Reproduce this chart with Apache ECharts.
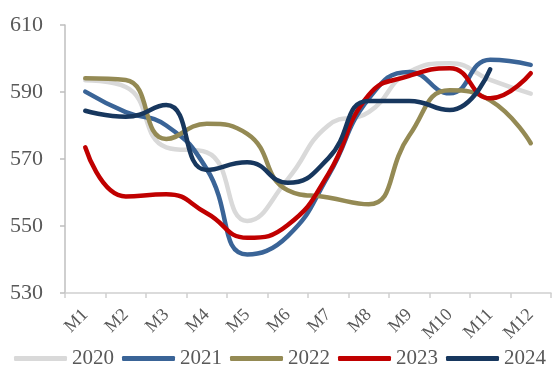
<!DOCTYPE html>
<html>
<head>
<meta charset="utf-8">
<script src="https://cdn.jsdelivr.net/npm/echarts@6/dist/echarts.min.js"></script>
<style>
  html, body { margin: 0; padding: 0; background: #fff; }
  #chart { width: 560px; height: 374px; }
</style>
</head>
<body>
<div id="chart"></div>
<script>
// Monthly values by year
const months = ['M1','M2','M3','M4','M5','M6','M7','M8','M9','M10','M11','M12'];
const y2020 = [593.5, 591.5, 573.5, 572, 551.5, 564, 580, 584, 596, 598.6, 593.6, 589.5];
const y2021 = [590.1, 584, 580, 567, 541.5, 547, 565, 588, 596, 589.6, 599.6, 598.1];
const y2022 = [594.1, 593.6, 576, 580.5, 577.5, 560.7, 558.5, 556.5, 577, 590.5, 587.5, 574.7];
const y2023 = [573.5, 558.8, 559.5, 553.8, 546.5, 550.3, 565.5, 589.1, 594.8, 597.1, 588.1, 595.6];
const y2024 = [584.4, 582.6, 586.1, 566.7, 569, 562.9, 570.2, 587.3, 587.3, 584.6, 596.8];

const yMin = 530, yMax = 610, yStep = 20;

const seriesDefs = [
  { name: '2020', data: y2020, color: '#D9D9D9' },
  { name: '2021', data: y2021, color: '#3A6497' },
  { name: '2022', data: y2022, color: '#948A54' },
  { name: '2023', data: y2023, color: '#C00000' },
  { name: '2024', data: y2024, color: '#17375E' }
];

const font = '"Liberation Serif", "Times New Roman", serif';
const chart = echarts.init(document.getElementById('chart'));
chart.setOption({
  animation: false,
  textStyle: { fontFamily: font },
  grid: { left: 65, right: 9, top: 25, bottom: 81, containLabel: false },
  legend: {
    bottom: 0,
    left: 'center',
    itemWidth: 53,
    itemHeight: 5,
    itemGap: 8,
    icon: 'roundRect',
    textStyle: { fontFamily: font, fontSize: 21, color: '#595959' },
    data: seriesDefs.map(s => s.name)
  },
  xAxis: {
    type: 'category',
    data: months,
    boundaryGap: true,
    axisLine: { lineStyle: { color: '#D0D0D0', width: 1.5 } },
    axisTick: { show: true, length: 5, lineStyle: { color: '#D0D0D0', width: 1.5 } },
    axisLabel: {
      rotate: 45,
      fontFamily: font,
      fontSize: 18,
      color: '#595959',
      margin: 19,
      interval: 0
    },
    splitLine: { show: false }
  },
  yAxis: {
    type: 'value',
    min: yMin,
    max: yMax,
    interval: yStep,
    axisLine: { show: true, lineStyle: { color: '#BFBFBF', width: 1.5 } },
    axisTick: { show: true, length: 5, lineStyle: { color: '#BFBFBF', width: 1.5 } },
    axisLabel: { fontFamily: font, fontSize: 22, color: '#595959', margin: 22 },
    splitLine: { show: false }
  },
  series: seriesDefs.map(s => ({
    name: s.name,
    type: 'line',
    data: s.data,
    smooth: 0.5,
    showSymbol: false,
    symbol: 'none',
    color: s.color,
    lineStyle: { width: 4.5, color: s.color, cap: 'round', join: 'round' }
  }))
});
</script>
</body>
</html>
